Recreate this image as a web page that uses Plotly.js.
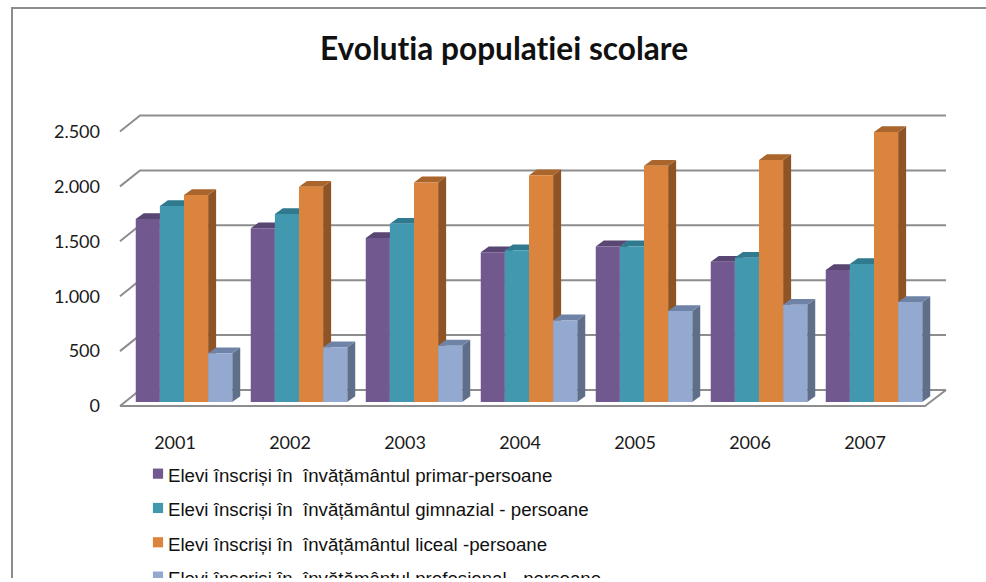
<!DOCTYPE html>
<html>
<head>
<meta charset="utf-8">
<script src="https://cdn.plot.ly/plotly-3.0.1.min.js"></script>
<style>html,body{margin:0;padding:0;background:#fff;overflow:hidden}#chart{width:986px;height:578px}
text{font-variant-ligatures:none !important;font-feature-settings:"liga" 0,"clig" 0 !important}</style>
</head>
<body>
<div id="chart"></div>
<script>
// ---- data ----
const years = ['2001','2002','2003','2004','2005','2006','2007'];
const primar     = [1667,1582,1494,1363,1417,1278,1202];
const gimnazial  = [1785,1712,1624,1381,1417,1314,1257];
const liceal     = [1885,1961,2000,2064,2152,2204,2459];
const profesional= [443,498,513,743,829,886,911];
const yTickVals  = [0,500,1000,1500,2000,2500];
const yTickText  = ['0','500','1.000','1.500','2.000','2.500'];
const names = [
  'Elevi înscriși în  învățământul primar-persoane',
  'Elevi înscriși în  învățământul gimnazial - persoane',
  'Elevi înscriși în  învățământul liceal -persoane',
  'Elevi înscriși în  învățământul profesional - persoane'
];
const frontColors = ['#71588F','#4198AF','#DB843D','#93A9CF'];
const topColors   = ['#5A4672','#2F7A8E','#A9652C','#6F83A6'];
const sideColors  = ['#4F3E64','#2A6B7C','#8E5425','#5F6F8A'];
const series = [primar,gimnazial,liceal,profesional];

// ---- page geometry (pixels) -> axis scales ----
const W=986,H=578;
const pL=101,pR=960,pT=100,pB=430;
const x0Px=175, catPx=115;       // category 0 position, category spacing
const y0Px=406, valPx=54.9/500;  // value 0 position, px per value unit
const xRange=[(pL-x0Px)/catPx,(pR-x0Px)/catPx];
const yRange=[(y0Px-pB)/valPx,(y0Px-pT)/valPx];
const wallDX=20/catPx, wallDY=16/valPx;       // oblique depth of the chart box
const barBase=4/valPx, barShift=9/catPx;      // where bar fronts stand on the floor
const barDX=8/catPx, barDY=5.8/valPx;         // bar depth
const bargap=0.161, barW=(1-bargap)/4;

const traces=[];
const gridColor='#8D8D8D';
// walls: gridlines along the back, slanted ones on the left
yTickVals.forEach(v=>{
  traces.push({type:'scatter',mode:'lines',showlegend:false,hoverinfo:'skip',
    x:[xRange[0]+(120-pL)/catPx, xRange[0]+(140-pL)/catPx, xRange[0]+(946-pL)/catPx],
    y:[v, v+wallDY, v+wallDY],
    line:{color:gridColor,width:2}});
});
// floor: front edge and right edge
traces.push({type:'scatter',mode:'lines',showlegend:false,hoverinfo:'skip',
  x:[xRange[0]+(120-pL)/catPx, xRange[0]+(925-pL)/catPx, xRange[0]+(946-pL)/catPx],
  y:[0,0,wallDY],
  line:{color:gridColor,width:2}});

// oblique faces, left series first so that later ones cover them
series.forEach((vals,s)=>{
  const sx=[],sy=[],tx=[],ty=[];
  vals.forEach((v,i)=>{
    const L=i+barShift-(1-bargap)/2+s*barW, R=L+barW;
    sx.push(R,R+barDX,R+barDX,R,R,null);
    sy.push(barBase,barBase+barDY,barBase+v+barDY,barBase+v,barBase,null);
    tx.push(L,L+barDX,R+barDX,R,L,null);
    ty.push(barBase+v,barBase+v+barDY,barBase+v+barDY,barBase+v,barBase+v,null);
  });
  traces.push({type:'scatter',mode:'lines',fill:'toself',showlegend:false,hoverinfo:'skip',
    x:sx,y:sy,fillcolor:sideColors[s],line:{width:0,color:sideColors[s]}});
  traces.push({type:'scatter',mode:'lines',fill:'toself',showlegend:false,hoverinfo:'skip',
    x:tx,y:ty,fillcolor:topColors[s],line:{width:0,color:topColors[s]}});
});
// front faces on an overlaid pair of axes, so they sit above the oblique faces
series.forEach((vals,s)=>{
  traces.push({type:'bar',xaxis:'x2',yaxis:'y2',name:names[s],legendgroup:'g'+s,
    x:years.map((_,i)=>i+barShift),y:vals,base:vals.map(()=>barBase),
    marker:{color:frontColors[s],line:{width:0}}});
});

const px=x=>(x-pL)/(pR-pL), py=y=>(pB-y)/(pB-pT);
const layout={
  width:W,height:H,
  margin:{l:pL,r:W-pR,t:pT,b:H-pB,autoexpand:false},
  paper_bgcolor:'#FFFFFF',plot_bgcolor:'rgba(0,0,0,0)',
  title:{text:'Evolutia populatiei scolare',font:{family:'Lato',size:31.6,color:'#111111',weight:700},
    xref:'paper',x:px(504),xanchor:'center',yref:'container',y:1-49/H,yanchor:'middle'},
  barmode:'group',bargap:bargap,bargroupgap:0,
  xaxis:{range:xRange,tickmode:'array',tickvals:years.map((_,i)=>i),ticktext:years,
    showgrid:false,zeroline:false,showline:false,ticks:'',
    tickfont:{family:'Lato',size:18,color:'#1A1A1A'}},
  yaxis:{range:yRange,tickmode:'array',tickvals:yTickVals,ticktext:yTickText,
    showgrid:false,zeroline:false,showline:false,ticks:'',
    tickfont:{family:'Lato',size:18,color:'#1A1A1A'}},
  xaxis2:{range:xRange,overlaying:'x',visible:false},
  yaxis2:{range:yRange,overlaying:'y',visible:false},
  showlegend:true,
  legend:{x:px(128),xanchor:'left',xref:'paper',y:py(456),yanchor:'top',yref:'paper',
    traceorder:'grouped',tracegroupgap:7,bgcolor:'rgba(0,0,0,0)',borderwidth:0,
    font:{family:'Liberation Sans',size:18.7,color:'#111111'}},
  shapes:[
    {type:'line',xref:'paper',yref:'paper',x0:px(12),x1:px(12),y0:py(7),y1:py(H),line:{color:'#8C8C8C',width:2}},
    {type:'line',xref:'paper',yref:'paper',x0:px(11),x1:px(W),y0:py(8),y1:py(8),line:{color:'#8C8C8C',width:2}}
  ]
};
Plotly.newPlot('chart',traces,layout,{displayModeBar:false,staticPlot:true}).then(()=>{
  // legend swatches sit closer to their labels and are a little smaller in the reference
  document.querySelectorAll('.legend .legendpoints path').forEach(p=>{
    p.setAttribute('transform',(p.getAttribute('transform')||'')+' translate(10,-1) scale(0.85)');
  });
});
</script>
</body>
</html>
